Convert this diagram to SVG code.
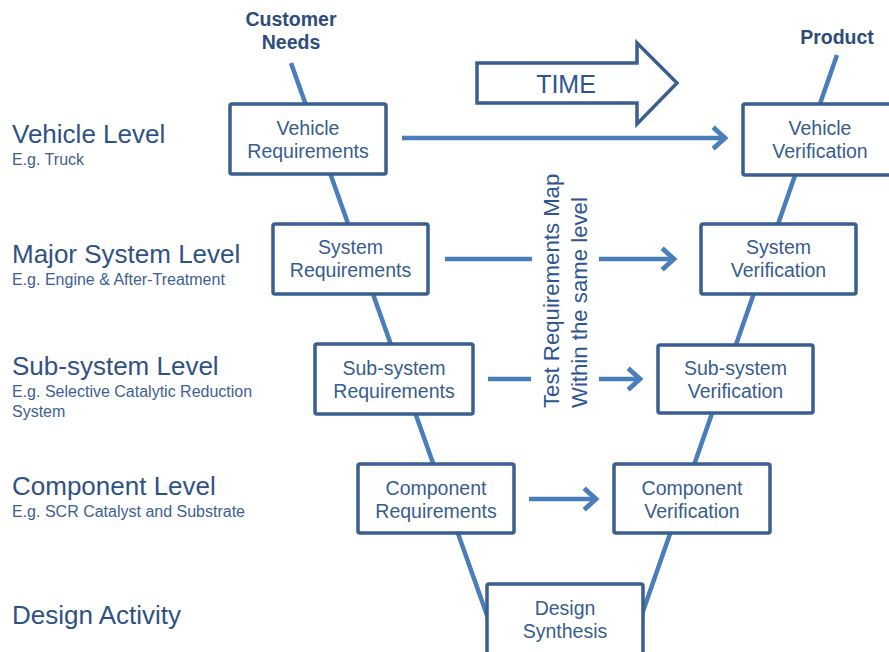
<svg xmlns="http://www.w3.org/2000/svg" width="889" height="652" viewBox="0 0 889 652">
<defs>
<style>
.box{fill:#fff;stroke:#3A5F8F;stroke-width:3.5}
.bt{font-family:"Liberation Sans",Arial,sans-serif;font-size:19.5px;fill:#375D8E;text-anchor:middle}
.lvl{font-family:"Liberation Sans",Arial,sans-serif;font-size:26px;fill:#2F5285}
.sub{font-family:"Liberation Sans",Arial,sans-serif;font-size:16px;fill:#3D6193}
.hd{font-family:"Liberation Sans",Arial,sans-serif;font-size:19.5px;font-weight:bold;fill:#2D4C7C;text-anchor:middle}
.vt{font-family:"Liberation Sans",Arial,sans-serif;font-size:22.2px;fill:#2F5590}
.vline{stroke:#4A7EBB;stroke-width:4.5;fill:none}
.conn{stroke:#4A7EBB;stroke-width:4.5;fill:none}
</style>
<marker id="ah" markerUnits="userSpaceOnUse" markerWidth="30" markerHeight="30" viewBox="-16 -14 20 28" refX="0" refY="0" orient="auto">
<path d="M -12 -10 L -1 0 L -12 10" fill="none" stroke="#4A7EBB" stroke-width="4.5"/>
</marker>
</defs>

<g id="v-shape">
<line class="vline" x1="291" y1="63" x2="488" y2="618"/>
<line class="vline" x1="837" y1="55" x2="641" y2="617"/>
</g>

<g id="time-arrow">
<path d="M 477 63 L 637 63 L 637 43 L 677 83 L 637 124 L 637 103 L 477 103 Z" fill="#fff" stroke="#3A5F8F" stroke-width="3.5" stroke-linejoin="miter"/>
<text x="566" y="93" font-family="'Liberation Sans',Arial,sans-serif" font-size="25" fill="#2F5590" text-anchor="middle">TIME</text>
</g>

<g id="connectors">
<line class="conn" x1="402" y1="138" x2="726" y2="138" marker-end="url(#ah)"/>
<line class="conn" x1="445" y1="259" x2="532" y2="259"/>
<line class="conn" x1="599" y1="259" x2="675" y2="259" marker-end="url(#ah)"/>
<line class="conn" x1="488" y1="379" x2="531" y2="379"/>
<line class="conn" x1="599" y1="379" x2="641" y2="379" marker-end="url(#ah)"/>
<line class="conn" x1="529" y1="499" x2="597" y2="499" marker-end="url(#ah)"/>
</g>

<g id="customer-needs"><text class="hd" x="291" y="26">Customer</text><text class="hd" x="291" y="49">Needs</text></g>
<g id="product"><text class="hd" x="837" y="44">Product</text></g>

<g id="vehicle-requirements"><rect class="box" x="230" y="104" width="156" height="70" rx="2"/><text class="bt" x="308" y="135">Vehicle</text><text class="bt" x="308" y="158">Requirements</text></g>
<g id="vehicle-verification"><rect class="box" x="743" y="104" width="156" height="71" rx="2"/><text class="bt" x="820" y="135">Vehicle</text><text class="bt" x="820" y="158">Verification</text></g>
<g id="system-requirements"><rect class="box" x="273" y="224" width="155" height="70" rx="2"/><text class="bt" x="350.5" y="254">System</text><text class="bt" x="350.5" y="277">Requirements</text></g>
<g id="system-verification"><rect class="box" x="701" y="224" width="155" height="70" rx="2"/><text class="bt" x="778.5" y="254">System</text><text class="bt" x="778.5" y="277">Verification</text></g>
<g id="subsystem-requirements"><rect class="box" x="315" y="344" width="158" height="70" rx="2"/><text class="bt" x="394" y="375">Sub-system</text><text class="bt" x="394" y="398">Requirements</text></g>
<g id="subsystem-verification"><rect class="box" x="658" y="345" width="155" height="68" rx="2"/><text class="bt" x="735.5" y="375">Sub-system</text><text class="bt" x="735.5" y="398">Verification</text></g>
<g id="component-requirements"><rect class="box" x="358" y="464" width="156" height="69" rx="2"/><text class="bt" x="436" y="495">Component</text><text class="bt" x="436" y="518">Requirements</text></g>
<g id="component-verification"><rect class="box" x="614" y="464" width="156" height="69" rx="2"/><text class="bt" x="692" y="495">Component</text><text class="bt" x="692" y="518">Verification</text></g>
<g id="design-synthesis"><rect class="box" x="487" y="584" width="156" height="80" rx="2"/><text class="bt" x="565" y="615">Design</text><text class="bt" x="565" y="638">Synthesis</text></g>

<g id="map-label">
<text class="vt" transform="translate(559,408) rotate(-90)">Test Requirements Map</text>
<text class="vt" transform="translate(587,408) rotate(-90)">Within the same level</text>
</g>

<g id="levels">
<text class="lvl" x="12" y="143">Vehicle Level</text>
<text class="sub" x="12" y="165">E.g. Truck</text>
<text class="lvl" x="12" y="263">Major System Level</text>
<text class="sub" x="12" y="285">E.g. Engine &amp; After-Treatment</text>
<text class="lvl" x="12" y="375">Sub-system Level</text>
<text class="sub" x="12" y="397">E.g. Selective Catalytic Reduction</text>
<text class="sub" x="12" y="417">System</text>
<text class="lvl" x="12" y="495">Component Level</text>
<text class="sub" x="12" y="517">E.g. SCR Catalyst and Substrate</text>
<text class="lvl" x="12" y="624">Design Activity</text>
</g>
</svg>
